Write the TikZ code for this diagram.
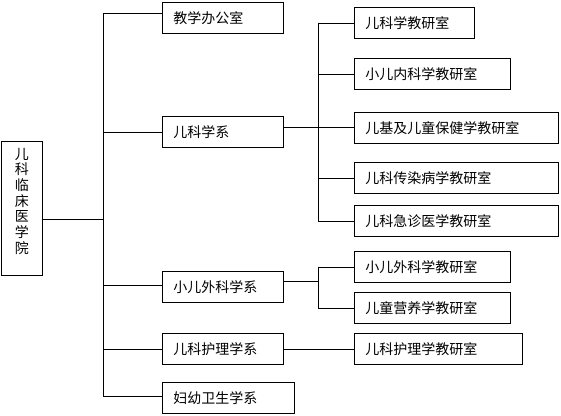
\documentclass[tikz,border=0pt]{standalone}
\usepackage{fontspec}
\newfontfamily\cjk{Noto Sans CJK SC}

\begin{document}
\begin{tikzpicture}[x=1pt,y=-1pt,line width=0.8pt,
  unitbox/.style={draw,anchor=north west,minimum height=31pt,inner xsep=11pt,inner ysep=0pt,align=left,font=\cjk\fontsize{14}{16}\selectfont},
  collegebox/.style={draw,anchor=north west,minimum width=41pt,minimum height=134pt,inner sep=0pt,align=center,font=\cjk\fontsize{14}{15.7}\selectfont},
  link/.style={draw,line cap=rect}]
  \useasboundingbox (0,0) rectangle (561,415);
  \node[collegebox] (college) at (1,141) {儿\\科\\临\\床\\医\\学\\院\\ \mbox{}};
  \node[unitbox,text width=99pt] (office) at (162,2) {教学办公室};
  \node[unitbox,text width=99pt] (peds) at (162,116) {儿科学系};
  \node[unitbox,text width=99pt] (surg) at (162,271) {小儿外科学系};
  \node[unitbox,text width=99pt] (nurse) at (162,333) {儿科护理学系};
  \node[unitbox,text width=110pt] (mch) at (162,382) {妇幼卫生学系};
  \node[unitbox,text width=98pt] (r1) at (354,7) {儿科学教研室};
  \node[unitbox,text width=134pt] (r2) at (354,58) {小儿内科学教研室};
  \node[unitbox,text width=182pt] (r3) at (354,112) {儿基及儿童保健学教研室};
  \node[unitbox,text width=182pt] (r4) at (354,162) {儿科传染病学教研室};
  \node[unitbox,text width=182pt] (r5) at (354,205) {儿科急诊医学教研室};
  \node[unitbox,text width=134pt] (r6) at (354,251) {小儿外科学教研室};
  \node[unitbox,text width=134pt] (r7) at (354,292) {儿童营养学教研室};
  \node[unitbox,text width=146pt] (r8) at (354,333) {儿科护理学教研室};
  \coordinate (trunk) at (103,0);
  \coordinate (spine) at (318,0);
  \draw[link] ([yshift=-11pt]college.east) coordinate (cj) -- (cj -| trunk);
  \foreach \n/\dy in {office/5,peds/0,surg/2,nurse/0,mch/1.5}
    \draw[link] ([yshift=\dy pt]\n.west) coordinate (b\n) -- (b\n -| trunk);
  \draw[link] (boffice -| trunk) -- (bmch -| trunk);
  \draw[link] ([yshift=5pt]peds.east) coordinate (pj) -- (pj -| r3.west);
  \foreach \n in {r1,r2,r4,r5}
    \draw[link] (\n.west) -- (\n.west -| spine);
  \draw[link] (r1.west -| spine) -- (r5.west -| spine);
  \draw[link] ([yshift=5.5pt]surg.east) coordinate (sj) -- (sj -| spine);
  \foreach \n in {r6,r7}
    \draw[link] (\n.west) -- (\n.west -| spine);
  \draw[link] (r6.west -| spine) -- (r7.west -| spine);
  \draw[link] (nurse.east) -- (r8.west);
\end{tikzpicture}
\end{document}
